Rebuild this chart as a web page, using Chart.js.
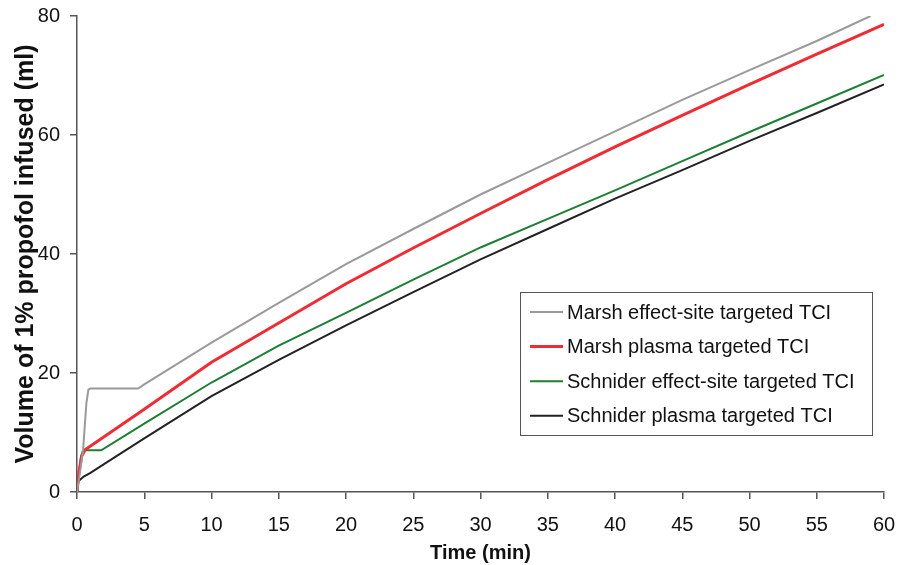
<!DOCTYPE html>
<html>
<head>
<meta charset="utf-8">
<script src="https://cdn.jsdelivr.net/npm/chart.js@4/dist/chart.umd.min.js"></script>
<style>
  html, body { margin: 0; padding: 0; background: #fff; }
  #wrap { width: 900px; height: 565px; }
</style>
</head>
<body>
<div id="wrap"><canvas id="chartPropofol"></canvas></div>
<script>
// time (min) and volume (ml)
var marshEsTime = [0, 0.2, 0.45, 0.7, 0.85, 1.0, 4.55, 5, 10, 15, 20, 25, 30, 35, 40, 45, 50, 55, 59];
var marshEsVol  = [0, 3, 7, 15, 17.2, 17.4, 17.4, 18.1, 25.1, 31.8, 38.3, 44.2, 50, 55.3, 60.6, 65.9, 70.9, 75.8, 80];

var marshPlTime = [0, 0.15, 0.35, 0.6, 5, 10, 15, 20, 25, 30, 35, 40, 45, 50, 55, 60];
var marshPlVol  = [0, 3.5, 6, 7.1, 13.9, 21.8, 28.4, 35, 41, 46.8, 52.5, 58, 63.3, 68.5, 73.6, 78.6];

var schEsTime = [0, 0.15, 0.3, 0.45, 1.8, 5, 10, 15, 20, 25, 30, 35, 40, 45, 50, 55, 60];
var schEsVol  = [0, 3, 6, 7, 7, 11.5, 18.4, 24.6, 30.1, 35.7, 41.1, 45.9, 50.7, 55.6, 60.5, 65.3, 70.1];

var schPlTime = [0, 0.1, 0.5, 1, 2.5, 5, 10, 15, 20, 25, 30, 35, 40, 45, 50, 55, 60];
var schPlVol  = [0, 1.8, 2.6, 3.2, 5.4, 9.0, 16.1, 22.2, 28, 33.6, 39.1, 44.2, 49.3, 54.1, 59, 63.7, 68.5];

var seriesLabels = ["Marsh effect-site targeted TCI", "Marsh plasma targeted TCI",
                    "Schnider effect-site targeted TCI", "Schnider plasma targeted TCI"];

function pts(t, v) {
    return t.map(function (x, i) { return { x: x, y: v[i] }; });
}

// legend box drawn inside the plot area, as in the figure
var boxLegend = {
    id: 'boxLegend',
    afterDraw: function (chart) {
        var ctx = chart.ctx;
        var x0 = 520.5, y0 = 292.5, w = 352, h = 143;
        ctx.save();
        ctx.fillStyle = '#fff';
        ctx.fillRect(x0, y0, w, h);
        ctx.strokeStyle = '#555';
        ctx.lineWidth = 1;
        ctx.strokeRect(x0, y0, w, h);
        ctx.font = '20px "Liberation Sans", Arial, sans-serif';
        ctx.textBaseline = 'middle';
        ctx.fillStyle = '#111';
        chart.data.datasets.forEach(function (ds, i) {
            var yy = 312 + i * 34.6;
            ctx.strokeStyle = ds.borderColor;
            ctx.lineWidth = ds.borderWidth;
            ctx.beginPath();
            ctx.moveTo(530, yy);
            ctx.lineTo(563, yy);
            ctx.stroke();
            ctx.fillText(ds.label, 567, yy + 1);
        });
        ctx.restore();
    }
};

var propofol = document.getElementById('chartPropofol').getContext('2d');
var chart = new Chart(propofol, {
    type: 'line',
    data: {
        datasets: [{
            label: seriesLabels[0],
            borderColor: '#9a9a9a',
            borderWidth: 2,
            data: pts(marshEsTime, marshEsVol)
        }, {
            label: seriesLabels[1],
            borderColor: '#ef2b33',
            borderWidth: 3,
            data: pts(marshPlTime, marshPlVol)
        }, {
            label: seriesLabels[2],
            borderColor: '#1c7f34',
            borderWidth: 2,
            data: pts(schEsTime, schEsVol)
        }, {
            label: seriesLabels[3],
            borderColor: '#222222',
            borderWidth: 2,
            data: pts(schPlTime, schPlVol)
        }]
    },
    options: {
        responsive: true,
        maintainAspectRatio: false,
        animation: false,
        layout: { padding: { top: 16, right: 16, left: 0, bottom: 0 } },
        elements: {
            point: { radius: 0 },
            line: { tension: 0, fill: false }
        },
        plugins: {
            legend: { display: false },
            tooltip: { enabled: false }
        },
        scales: {
            x: {
                type: 'linear',
                min: 0,
                max: 60,
                afterFit: function (s) { s.height = 73; s.paddingLeft = 0; s.paddingRight = 0; },
                ticks: {
                    stepSize: 5,
                    padding: 14,
                    color: '#111',
                    maxRotation: 0,
                    font: { family: '"Liberation Sans", Arial, sans-serif', size: 20 }
                },
                grid: { drawOnChartArea: false, tickLength: 7, color: '#555', lineWidth: 1.5 },
                border: { color: '#555', width: 1.5 },
                title: {
                    display: true,
                    text: 'Time (min)',
                    color: '#111',
                    padding: { top: 2, bottom: 0 },
                    font: { family: '"Liberation Sans", Arial, sans-serif', size: 20, weight: 'bold' }
                }
            },
            y: {
                min: 0,
                max: 80,
                afterFit: function (s) { s.width = 77; s.paddingTop = 0; s.paddingBottom = 0; },
                ticks: {
                    stepSize: 20,
                    padding: 10,
                    color: '#111',
                    font: { family: '"Liberation Sans", Arial, sans-serif', size: 20 }
                },
                grid: { drawOnChartArea: false, tickLength: 7, color: '#555', lineWidth: 1.5 },
                border: { color: '#555', width: 1.5 },
                title: {
                    display: true,
                    text: 'Volume of 1% propofol infused (ml)',
                    color: '#111',
                    padding: { top: 11, bottom: 0 },
                    font: { family: '"Liberation Sans", Arial, sans-serif', size: 25, weight: 'bold' }
                }
            }
        }
    },
    plugins: [boxLegend]
});
</script>
</body>
</html>
